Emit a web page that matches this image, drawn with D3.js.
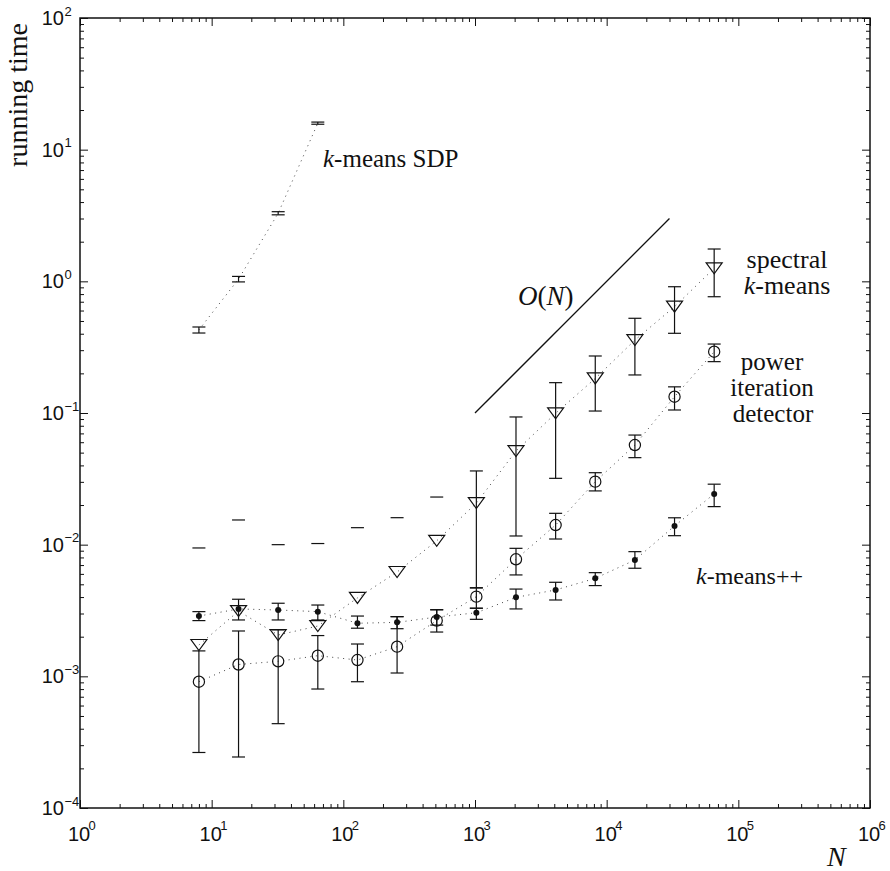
<!DOCTYPE html>
<html>
<head>
<meta charset="utf-8">
<script src="https://cdn.jsdelivr.net/npm/d3@7"></script>
<style>
  body { margin: 0; background: #fff; }
  svg text { fill: #111; }
</style>
</head>
<body>
<div id="chart"></div>
<script>
// problem sizes N and running times (mean, lower, upper)
var nAll = [8, 16, 32, 64, 128, 256, 512, 1024, 2048, 4096, 8192, 16384, 32768, 65536];

var sdpN    = [8, 16, 32, 64];
var sdpMean = [0.428, 1.04, 3.29, 15.9];
var sdpLo   = [0.405, 0.99, 3.20, 15.6];
var sdpHi   = [0.450, 1.09, 3.38, 16.2];

// spectral k-means: lower bound below zero for small N, so only upper cap
var specMean = [0.00173, 0.00313, 0.00206, 0.00241, 0.00394, 0.0062, 0.0107, 0.0207, 0.0514, 0.0995, 0.183, 0.358, 0.642, 1.256];
var specLo   = [null, null, null, null, null, null, null, 0.00469, 0.01164, 0.0319, 0.1035, 0.1945, 0.403, 0.764];
var specHi   = [0.00944, 0.0154, 0.0100, 0.0102, 0.01346, 0.01603, 0.0230, 0.0363, 0.0933, 0.170, 0.271, 0.524, 0.910, 1.76];

var pidMean = [0.00091, 0.00123, 0.00130, 0.001435, 0.00133, 0.00168, 0.00265, 0.00403, 0.00774, 0.0141, 0.0301, 0.0571, 0.133, 0.292];
var pidLo   = [0.000264, 0.000244, 0.000437, 0.000801, 0.00091, 0.00106, 0.00217, 0.00329, 0.00589, 0.01104, 0.0256, 0.0458, 0.1054, 0.2455];
var pidHi   = [0.00156, 0.00221, 0.00225, 0.00204, 0.00176, 0.00284, 0.00321, 0.00471, 0.00938, 0.0173, 0.0352, 0.068, 0.158, 0.334];

var kppMean = [0.00287, 0.00325, 0.00319, 0.0031, 0.00253, 0.00257, 0.00282, 0.00304, 0.00398, 0.00453, 0.00555, 0.00765, 0.01387, 0.0243];
var kppLo   = [0.00265, 0.00268, 0.00268, 0.00268, 0.00232, 0.0023, 0.00245, 0.00271, 0.00325, 0.0038, 0.00489, 0.00662, 0.0117, 0.01945];
var kppHi   = [0.0031, 0.00385, 0.00359, 0.00348, 0.00287, 0.00284, 0.0032, 0.00329, 0.0046, 0.00518, 0.00613, 0.00885, 0.016, 0.0288];

// reference slope line O(N)
var refN = [1e3, 3e4];
var refT = [0.1, 3];

var xDecades = [0, 1, 2, 3, 4, 5, 6];
var yDecades = [-4, -3, -2, -1, 0, 1, 2];

var W = 890, H = 871;
var padL = 80, padR = 870, padT = 18, padB = 808;

var svg = d3.select("#chart").append("svg")
            .attr("width", W)
            .attr("height", H);

var x = d3.scaleLog().domain([1, 1e6]).range([padL, padR]);
var y = d3.scaleLog().domain([1e-4, 1e2]).range([padB, padT]);

// minor + major tick values
function logTicks(lo, hi) {
  var out = [];
  for (var e = lo; e < hi; e++)
    for (var m = 2; m <= 9; m++) out.push(m * Math.pow(10, e));
  return out;
}
var xMinor = logTicks(0, 6), yMinor = logTicks(-4, 2);
var xMajor = xDecades.map(function(e) { return Math.pow(10, e); });
var yMajor = yDecades.map(function(e) { return Math.pow(10, e); });

function styleAxis(g) {
  g.select(".domain").remove();
  g.selectAll("line").attr("stroke", "#111").attr("stroke-width", 1);
}

[[d3.axisBottom, "translate(0," + padB + ")", x, xMinor, xMajor],
 [d3.axisTop, "translate(0," + padT + ")", x, xMinor, xMajor],
 [d3.axisLeft, "translate(" + padL + ",0)", y, yMinor, yMajor],
 [d3.axisRight, "translate(" + padR + ",0)", y, yMinor, yMajor]].forEach(function(a) {
  svg.append("g").attr("transform", a[1])
     .call(a[0](a[2]).tickValues(a[3]).tickSize(-4).tickSizeOuter(0).tickFormat(""))
     .call(styleAxis);
  svg.append("g").attr("transform", a[1])
     .call(a[0](a[2]).tickValues(a[4]).tickSize(-8).tickSizeOuter(0).tickFormat(""))
     .call(styleAxis);
});

svg.append("rect")
   .attr("x", padL).attr("y", padT)
   .attr("width", padR - padL).attr("height", padB - padT)
   .attr("fill", "none").attr("stroke", "#111").attr("stroke-width", 1.5);

// tick labels 10^k
var sans = "'Liberation Sans', Arial, sans-serif";
xDecades.forEach(function(e) {
  var px = x(Math.pow(10, e));
  svg.append("text").attr("x", px - 1).attr("y", 840.5)
     .attr("text-anchor", "middle").attr("font-family", sans).attr("font-size", 20)
     .text("10");
  svg.append("text").attr("x", px + 8.5).attr("y", 830)
     .attr("font-family", sans).attr("font-size", 13)
     .text(e < 0 ? "\u2212" + (-e) : e);
});
yDecades.forEach(function(e) {
  var py = y(Math.pow(10, e));
  svg.append("text").attr("x", 64).attr("y", py + 7)
     .attr("text-anchor", "end").attr("font-family", sans).attr("font-size", 20)
     .text("10");
  svg.append("text").attr("x", 64.5).attr("y", py - 2.5)
     .attr("font-family", sans).attr("font-size", 13)
     .text(e < 0 ? "\u2212" + (-e) : e);
});

var serif = "'Liberation Serif', 'Times New Roman', serif";

// axis titles
svg.append("text")
   .attr("transform", "translate(27,95) rotate(-90)")
   .attr("text-anchor", "middle").attr("font-family", serif).attr("font-size", 28)
   .text("running time");
svg.append("text").attr("x", 827).attr("y", 866)
   .attr("font-family", serif).attr("font-size", 28).attr("font-style", "italic")
   .text("N");

// dotted connecting lines
var line = d3.line()
             .x(function(d) { return x(d[0]); })
             .y(function(d) { return y(d[1]); });

function dotted(ns, vals) {
  svg.append("path")
     .datum(d3.zip(ns, vals))
     .attr("d", line)
     .attr("fill", "none")
     .attr("stroke", "#444")
     .attr("stroke-width", 1)
     .attr("stroke-dasharray", "1,4.5");
}
dotted(sdpN, sdpMean);
dotted(nAll, specMean);
dotted(nAll, pidMean);
dotted(nAll, kppMean);

// error bars
function errorBars(ns, lo, hi, capW) {
  var g = svg.append("g").attr("stroke", "#111").attr("stroke-width", 1.2);
  ns.forEach(function(n, i) {
    var px = x(n);
    if (lo[i] != null) {
      g.append("line").attr("x1", px).attr("x2", px)
       .attr("y1", y(lo[i])).attr("y2", y(hi[i]));
      g.append("line").attr("x1", px - capW).attr("x2", px + capW)
       .attr("y1", y(lo[i])).attr("y2", y(lo[i]));
    }
    g.append("line").attr("x1", px - capW).attr("x2", px + capW)
     .attr("y1", y(hi[i])).attr("y2", y(hi[i]));
  });
}
errorBars(sdpN, sdpLo, sdpHi, 6.5);
errorBars(nAll, specLo, specHi, 6.5);
errorBars(nAll, pidLo, pidHi, 6.5);
errorBars(nAll, kppLo, kppHi, 6.5);

// markers
svg.append("g").selectAll("path")
   .data(d3.zip(nAll, specMean)).enter()
   .append("path")
   .attr("d", "M-8,-5.5L8,-5.5L0,5.5Z")
   .attr("transform", function(d) { return "translate(" + x(d[0]) + "," + y(d[1]) + ")"; })
   .attr("fill", "none").attr("stroke", "#111").attr("stroke-width", 1.2);

svg.append("g").selectAll("circle")
   .data(d3.zip(nAll, pidMean)).enter()
   .append("circle")
   .attr("cx", function(d) { return x(d[0]); })
   .attr("cy", function(d) { return y(d[1]); })
   .attr("r", 5.6)
   .attr("fill", "none").attr("stroke", "#111").attr("stroke-width", 1.2);

svg.append("g").selectAll("circle")
   .data(d3.zip(nAll, kppMean)).enter()
   .append("circle")
   .attr("cx", function(d) { return x(d[0]); })
   .attr("cy", function(d) { return y(d[1]); })
   .attr("r", 3)
   .attr("fill", "#111");

// O(N) guide line
svg.append("path")
   .datum(d3.zip(refN, refT))
   .attr("d", line)
   .attr("fill", "none").attr("stroke", "#111").attr("stroke-width", 1.3);

// annotations
function label(tx, ty, anchor, size, parts) {
  var t = svg.append("text").attr("x", tx).attr("y", ty)
             .attr("text-anchor", anchor).attr("font-family", serif).attr("font-size", size);
  parts.forEach(function(p) {
    t.append("tspan").attr("font-style", p[1] ? "italic" : "normal").text(p[0]);
  });
}
label(323, 167, "start", 25, [["k", true], ["-means SDP", false]]);
label(518, 305, "start", 27, [["O", true], ["(", false], ["N", true], [")", false]]);
label(787, 268, "middle", 26, [["spectral", false]]);
label(787, 294, "middle", 26, [["k", true], ["-means", false]]);
label(772, 370, "middle", 25, [["power", false]]);
label(772, 396, "middle", 25, [["iteration", false]]);
label(773, 422, "middle", 25, [["detector", false]]);
label(696, 584, "start", 24, [["k", true], ["-means++", false]]);
</script>
</body>
</html>
